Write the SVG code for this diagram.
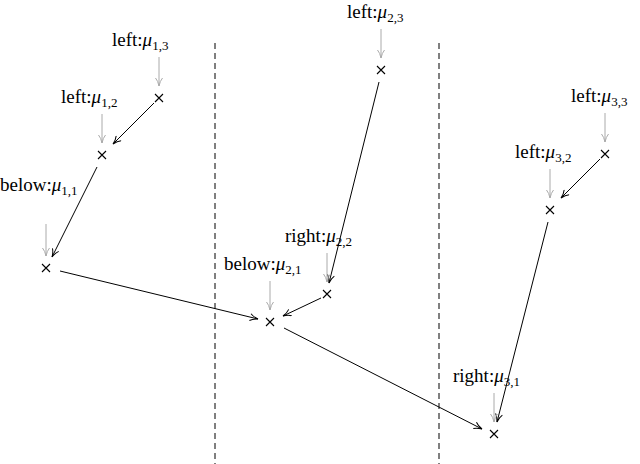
<svg xmlns="http://www.w3.org/2000/svg" width="640" height="464" viewBox="0 0 640 464">
<style>
text{font-family:"Liberation Serif",serif;font-size:19px;fill:#000}
.m{font-style:italic}
.s{font-size:13px}
.x{stroke:#000;stroke-width:1.1}
.g{stroke:#aaa;stroke-width:1;marker-end:url(#ga)}
.c{stroke:#000;stroke-width:1;marker-end:url(#ka);fill:none}
.d{stroke:#000;stroke-width:1;stroke-dasharray:6,4}
</style>
<defs>
<marker id="ka" markerWidth="10" markerHeight="8" refX="9" refY="4" orient="auto" markerUnits="userSpaceOnUse"><path d="M1,0.5 Q4,3 9,4 Q4,5 1,7.5" fill="none" stroke="#000" stroke-width="1"/></marker>
<marker id="ga" markerWidth="10" markerHeight="8" refX="9" refY="4" orient="auto" markerUnits="userSpaceOnUse"><path d="M1,0.5 Q4,3 9,4 Q4,5 1,7.5" fill="none" stroke="#aaa" stroke-width="1"/></marker>
<g id="xm"><path class="x" d="M-4,-4L4,4M-4,4L4,-4"/></g>
</defs>
<g id="dividers">
<line class="d" x1="215" y1="43" x2="215" y2="464"/>
<line class="d" x1="439" y1="43" x2="439" y2="464"/>
</g>
<g id="connectors">
<line class="c" x1="154" y1="103" x2="113" y2="144"/>
<line class="c" x1="97" y1="167" x2="52" y2="257"/>
<line class="c" x1="60" y1="271" x2="258" y2="319"/>
<line class="c" x1="379" y1="82" x2="329" y2="283"/>
<line class="c" x1="321" y1="298" x2="283" y2="316"/>
<line class="c" x1="284" y1="328" x2="482" y2="429"/>
<line class="c" x1="600" y1="159" x2="561" y2="198"/>
<line class="c" x1="548" y1="222" x2="497" y2="422"/>
</g>
<g id="n13"><use href="#xm" x="159" y="98"/><line class="g" x1="159" y1="57" x2="159" y2="86"/><text x="112" y="46">left:<tspan class="m">μ</tspan><tspan class="s" dy="4">1,3</tspan></text></g>
<g id="n12"><use href="#xm" x="102" y="155"/><line class="g" x1="102" y1="114" x2="102" y2="143"/><text x="61" y="103">left:<tspan class="m">μ</tspan><tspan class="s" dy="4">1,2</tspan></text></g>
<g id="n11"><use href="#xm" x="46" y="268"/><line class="g" x1="46" y1="224" x2="46" y2="256"/><text x="0" y="191">below:<tspan class="m">μ</tspan><tspan class="s" dy="4">1,1</tspan></text></g>
<g id="n23"><use href="#xm" x="381" y="70"/><line class="g" x1="381" y1="29" x2="381" y2="58"/><text x="347" y="18">left:<tspan class="m">μ</tspan><tspan class="s" dy="4">2,3</tspan></text></g>
<g id="n22"><use href="#xm" x="327" y="294"/><line class="g" x1="327" y1="253" x2="327" y2="282"/><text x="285" y="242">right:<tspan class="m">μ</tspan><tspan class="s" dy="4">2,2</tspan></text></g>
<g id="n21"><use href="#xm" x="270" y="322"/><line class="g" x1="270" y1="281" x2="270" y2="310"/><text x="224" y="270">below:<tspan class="m">μ</tspan><tspan class="s" dy="4">2,1</tspan></text></g>
<g id="n33"><use href="#xm" x="605" y="154"/><line class="g" x1="605" y1="113" x2="605" y2="142"/><text x="571" y="102">left:<tspan class="m">μ</tspan><tspan class="s" dy="4">3,3</tspan></text></g>
<g id="n32"><use href="#xm" x="550" y="210"/><line class="g" x1="550" y1="169" x2="550" y2="198"/><text x="515" y="158">left:<tspan class="m">μ</tspan><tspan class="s" dy="4">3,2</tspan></text></g>
<g id="n31"><use href="#xm" x="494" y="434"/><line class="g" x1="494" y1="393" x2="494" y2="422"/><text x="453" y="382">right:<tspan class="m">μ</tspan><tspan class="s" dy="4">3,1</tspan></text></g>
</svg>
